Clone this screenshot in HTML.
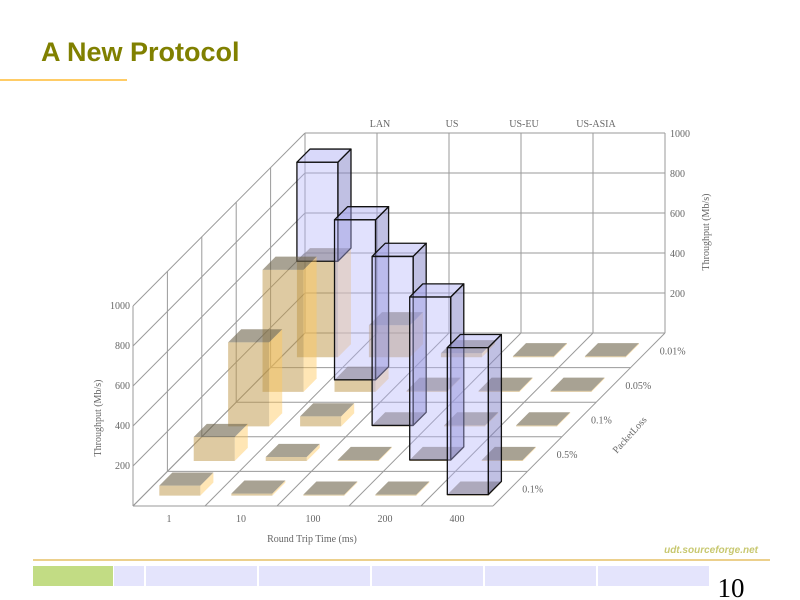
<!DOCTYPE html>
<html><head><meta charset="utf-8">
<style>
body{margin:0;background:#fff;}
#wrap{position:relative;width:800px;height:600px;overflow:hidden;background:#fff;font-family:"Liberation Sans",sans-serif;}
.title{position:absolute;left:41px;top:37px;font-size:27px;font-weight:bold;color:#808000;}
svg text{font-family:"Liberation Serif",serif;fill:#666;font-size:10px;}
</style></head>
<body>
<div id="wrap">
<div class="title">A New Protocol</div>
<svg id="chart" width="800" height="600" style="position:absolute;left:0;top:0">
<line x1="0" y1="80" x2="127" y2="80" stroke="#ffcc66" stroke-width="2"/>
<line x1="33" y1="560" x2="770" y2="560" stroke="#ecd08c" stroke-width="2"/>
<text x="758" y="553" text-anchor="end" style="font-family:'Liberation Sans',sans-serif;font-size:10px;font-weight:bold;font-style:italic;fill:#c8c870">udt.sourceforge.net</text>
<rect x="33" y="566" width="80" height="20" fill="#c2dc84"/>
<rect x="114" y="566" width="30" height="20" fill="#e4e4fc"/>
<rect x="146" y="566" width="111" height="20" fill="#e4e4fc"/>
<rect x="259" y="566" width="111" height="20" fill="#e4e4fc"/>
<rect x="372" y="566" width="111" height="20" fill="#e4e4fc"/>
<rect x="485" y="566" width="111" height="20" fill="#e4e4fc"/>
<rect x="598" y="566" width="111" height="20" fill="#e4e4fc"/>
<text x="731" y="597" text-anchor="middle" style="font-size:27px;fill:#000">10</text>
<g id="g"></g>
</svg>
</div>
<script>
// data
const rttLabels = ["1","10","100","200","400"];
const lossLabels = ["0.1%","0.5%","0.1%","0.05%","0.01%"]; // front to back
const netLabels = ["LAN","US","US-EU","US-ASIA"];
const yTicks = [200,400,600,800,1000];
// beige series (rows front->back, cols 1..400)
const base0 = [50,10,5,5,5];
const base1 = [120,20,5,5,5];
const base2 = [420,50,5,5,5];
const base3 = [610,60,5,5,5];
const base4 = [480,160,20,5,5];
// blue stacked series
const top0 = [0,0,0,0,735];
const top1 = [0,0,0,815,0];
const top2 = [0,0,845,0,0];
const top3 = [0,800,0,0,0];
const top4 = [495,0,0,0,0];

const baseRows=[base0,base1,base2,base3,base4];
const topRows=[top0,top1,top2,top3,top4];
const X0=133,Y0=506,CW=72,DX=34.4,DY=34.6,HS=0.2;
function px(i,d){return X0+CW*i+DX*d;}
function py(d,v){return Y0-DY*d-HS*v;}
const g=document.getElementById('g');
const NS='http://www.w3.org/2000/svg';
function el(t,a){const e=document.createElementNS(NS,t);for(const k in a)e.setAttribute(k,a[k]);g.appendChild(e);return e;}
function line(x1,y1,x2,y2,n){const e=el('line',{x1,y1,x2,y2,stroke:'#9a9a9a','stroke-width':1});

}
function txt(x,y,s,n,extra){const e=el('text',Object.assign({x,y},extra||{}));e.textContent=s;

return e;}
// back wall
for(let k=0;k<=5;k++){line(px(k,5),py(5,0),px(k,5),py(5,1000),'back-wall-vline');}
for(let k=0;k<=5;k++){line(px(0,5),py(5,k*200),px(5,5),py(5,k*200),'back-wall-hline');}
// left wall
for(let d=0;d<=5;d++){line(px(0,d),py(d,0),px(0,d),py(d,1000),'left-wall-vline');}
for(let k=0;k<=5;k++){line(px(0,0),py(0,k*200),px(0,5),py(5,k*200),'left-wall-hline');}
// floor
for(let d=0;d<=5;d++){line(px(0,d),py(d,0),px(5,d),py(d,0),'floor-row-line');}
for(let i=0;i<=5;i++){line(px(i,0),py(0,0),px(i,5),py(5,0),'floor-col-line');}
// bars
function poly(pts,fill,stroke,sw,n){const e=el('polygon',{points:pts.map(p=>p.join(',')).join(' '),fill,stroke:stroke||'none','stroke-width':sw||0,'stroke-linejoin':'round'});

}
function box(i,r,v0,v1,c,n){
 const d0=r+0.3,d1=r+0.68;
 const x0=X0+CW*i+DX*d0+16, w=41;
 const ox=DX*(d1-d0), oy=DY*(d1-d0);
 const yb=py(d0,v0), yt=py(d0,v1);
 const st=c.stroke, sw=c.sw;
 poly([[x0+w,yb],[x0+w+ox,yb-oy],[x0+w+ox,yt-oy],[x0+w,yt]],c.side,st,sw,n+'-side');
 poly([[x0,yt],[x0+w,yt],[x0+w+ox,yt-oy],[x0+ox,yt-oy]],c.top,st,sw,n+'-top');
 poly([[x0,yb],[x0+w,yb],[x0+w,yt],[x0,yt]],c.front,st,sw,n+'-front');
}
const beige={front:'rgba(190,150,70,0.5)',top:'rgba(110,100,75,0.6)',side:'rgba(255,200,90,0.45)',stroke:'none',sw:0};
const blue={front:'rgba(180,180,250,0.4)',top:'rgba(170,170,245,0.45)',side:'rgba(130,130,200,0.5)',stroke:'#111',sw:1.3};
for(let r=4;r>=0;r--){
 for(let i=4;i>=0;i--){
  const b=baseRows[r][i];
  box(i,r,0,b,beige,'tcp-bar');
  const t=topRows[r][i];
  if(t>0) box(i,r,b,b+t,blue,'udt-bar');
 }
}
// labels
yTicks.forEach(v=>{txt(130,py(0,v)+3,String(v),'left-y-tick',{'text-anchor':'end'});
 txt(670,py(5,v)+4,String(v),'right-y-tick');});
rttLabels.forEach((s,i)=>txt(px(i,0)+36,522,s,'x-tick',{'text-anchor':'middle'}));
lossLabels.forEach((s,r)=>txt(px(5,r+0.5)+12,py(r+0.5,0)+4,s,'loss-tick'));
netLabels.forEach((s,k)=>txt(px(k+1,5)+3,127,s,'network-label',{'text-anchor':'middle'}));
txt(312,542,'Round Trip Time (ms)','x-axis-title',{'text-anchor':'middle'});
txt(101,418,'Throughput (Mb/s)','left-y-axis-title',{'text-anchor':'middle',transform:'rotate(-90 101 418)'});
txt(709,232,'Throughput (Mb/s)','right-y-axis-title',{'text-anchor':'middle',transform:'rotate(-90 709 232)'});
txt(632,437,'PacketLoss','z-axis-title',{'text-anchor':'middle',transform:'rotate(-48 632 437)'});
</script>
</body></html>
